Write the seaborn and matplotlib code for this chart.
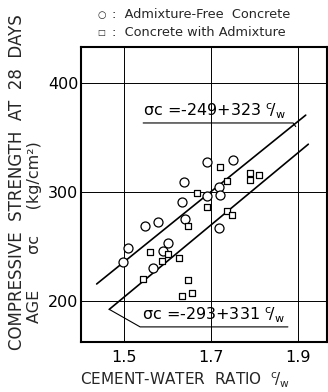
import matplotlib
matplotlib.use("Agg")
import matplotlib.pyplot as plt
import seaborn as sns
import pandas as pd

# ---- data ----
free_cw = [1.690, 1.750, 1.638, 1.719, 1.721, 1.690, 1.633, 1.548, 1.579, 1.640,
           1.719, 1.508, 1.498, 1.600, 1.589, 1.567]
free_sc = [327.5, 329.4, 309.4, 304.9, 297.2, 295.9, 290.4, 269.1, 272.5, 275.0,
           267.2, 248.9, 236.1, 253.5, 246.1, 230.3]

adm_cw = [1.720, 1.738, 1.790, 1.790, 1.810, 1.667, 1.690, 1.647, 1.737, 1.749,
          1.560, 1.600, 1.587, 1.627, 1.544, 1.648, 1.633, 1.657]
adm_sc = [322.9, 309.6, 317.6, 310.7, 315.1, 299.1, 285.8, 269.1, 282.6, 278.9,
          245.0, 243.4, 236.4, 239.4, 219.9, 219.3, 204.6, 207.1]

# regression lines (end points)
upper_cw = [1.437, 1.918]
upper_sc = [215.5, 370.5]
lower_cw = [1.466, 1.924]
lower_sc = [192.2, 343.8]

x_ticks = [1.5, 1.7, 1.9]
y_ticks = [200, 300, 400]
legend_labels = ["Admixture-Free  Concrete", "Concrete with Admixture"]
eq_upper = "σc =-249+323 "
eq_lower = "σc =-293+331 "

sns.set_theme(style="white")
plt.rcParams["font.family"] = ["DejaVu Sans"]
plt.rcParams["mathtext.fontset"] = "dejavusans"

fig = plt.figure(figsize=(3.28, 3.92), dpi=100)
ax = fig.add_axes([0.247, 0.128, 0.750, 0.752])

df_free = pd.DataFrame({"cw": free_cw, "sc": free_sc})
df_adm = pd.DataFrame({"cw": adm_cw, "sc": adm_sc})
df_up = pd.DataFrame({"cw": upper_cw, "sc": upper_sc})
df_lo = pd.DataFrame({"cw": lower_cw, "sc": lower_sc})

sns.lineplot(data=df_up, x="cw", y="sc", ax=ax, color="black", linewidth=1.2)
sns.lineplot(data=df_lo, x="cw", y="sc", ax=ax, color="black", linewidth=1.2)

sns.scatterplot(data=df_free, x="cw", y="sc", ax=ax, marker="o", s=42,
                fc="white", ec="black", linewidth=0.9, zorder=3)
sns.scatterplot(data=df_adm, x="cw", y="sc", ax=ax, marker="s", s=25,
                fc="white", ec="black", linewidth=0.9, zorder=3)

ax.set_xlim(1.401, 1.967)
ax.set_ylim(162.4, 433)
ax.set_xticks(x_ticks)
ax.set_xticklabels([str(v) for v in x_ticks])
ax.set_yticks(y_ticks)
ax.set_yticklabels([str(v) for v in y_ticks])
ax.tick_params(axis="both", length=0, labelsize=11.5, colors="black")
ax.tick_params(axis="x", pad=6)
ax.tick_params(axis="y", pad=2)
ax.grid(True, color="black", linewidth=0.7)
ax.set_axisbelow(True)
for sp in ax.spines.values():
    sp.set_visible(True)
    sp.set_color("black")
    sp.set_linewidth(1.5)
ax.set_xlabel("")
ax.set_ylabel("")

cw_math = r"$^{\mathrm{c}}\!/_{\mathrm{w}}$"

# equation annotations with underline + leader
ax.text(1.544, 365.0, eq_upper + cw_math, fontsize=11.5,
        ha="left", va="bottom", color="black")
ax.plot([1.544, 1.889, 1.895], [363.3, 363.3, 360.0], color="black", linewidth=0.8)

ax.text(1.541, 177.5, eq_lower + cw_math, fontsize=11.5,
        ha="left", va="bottom", color="black")
ax.plot([1.466, 1.537, 1.877], [192.2, 176.1, 176.1], color="black", linewidth=0.8)

# legend block
fig.text(97 / 328, 1 - 15 / 392, "○", fontsize=7, ha="left", va="center")
fig.text(112 / 328, 1 - 15 / 392, ":  " + legend_labels[0], fontsize=9.3,
         ha="left", va="center")
fig.text(97 / 328, 1 - 33 / 392, "□", fontsize=6, ha="left", va="center")
fig.text(112 / 328, 1 - 33 / 392, ":  " + legend_labels[1], fontsize=9.3,
         ha="left", va="center")

# axis titles
fig.text(17 / 328, 1 - 350 / 392, "COMPRESSIVE  STRENGTH  AT  28  DAYS",
         rotation=90, rotation_mode="anchor", ha="left", va="center",
         fontsize=12)
fig.text(35 / 328, 1 - 323 / 392, "AGE       σc     (kg/cm²)",
         rotation=90, rotation_mode="anchor", ha="left", va="center",
         fontsize=11.5)
fig.text(80 / 328, 1 - 380 / 392,
         "CEMENT-WATER  RATIO  " + cw_math,
         ha="left", va="center", fontsize=11)

fig.savefig("out.png", dpi=100)
